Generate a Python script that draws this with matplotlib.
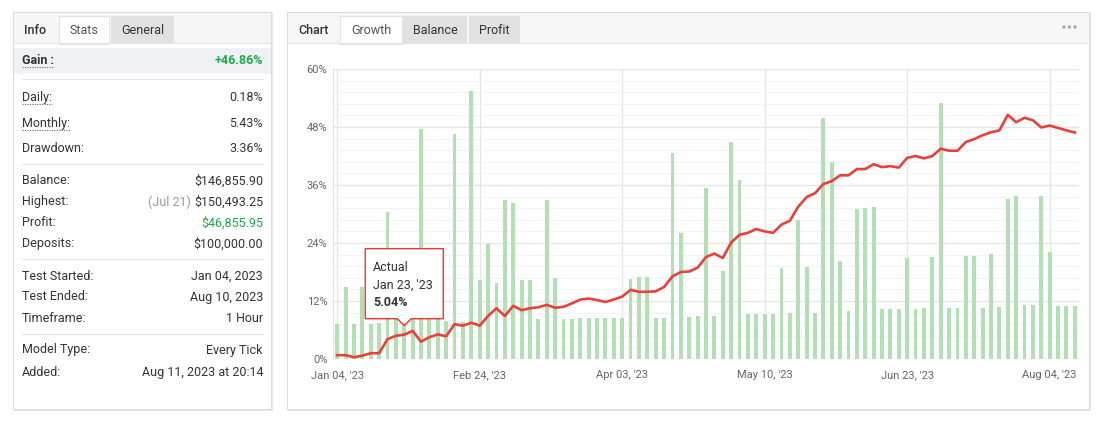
import matplotlib
matplotlib.use("Agg")
import matplotlib.pyplot as plt
from matplotlib.patches import Rectangle, Polygon
from matplotlib.ticker import MultipleLocator, FuncFormatter

plt.rcParams['font.family'] = ['Roboto', 'DejaVu Sans']

# ---- data ----
gain_text = "+46.86%"
stat_labels = ["Daily:", "Monthly:", "Drawdown:", "Balance:", "Highest:", "Profit:",
               "Deposits:", "Test Started:", "Test Ended:", "Timeframe:", "Model Type:", "Added:"]
stat_values = ["0.18%", "5.43%", "3.36%", "$146,855.90", "$150,493.25", "$46,855.95",
               "$100,000.00", "Jan 04, 2023", "Aug 10, 2023", "1 Hour", "Every Tick",
               "Aug 11, 2023 at 20:14"]
highest_date = "(Jul 21)"

# growth curve (%), one point per sample
growth = [0.8, 0.8, 0.35, 0.7, 1.2, 1.2, 4.1, 4.8, 5.04, 5.8, 3.6, 4.5, 5.1, 4.7, 7.2,
          6.9, 7.5, 6.9, 8.9, 10.5, 8.9, 11.0, 10.1, 10.5, 10.7, 11.2, 10.6, 10.8, 11.5, 12.3,
          12.5, 12.2, 11.8, 12.3, 12.9, 14.3, 13.9, 13.9, 14.0, 14.9, 17.1, 18.0, 18.1, 18.9, 21.1,
          21.8, 20.9, 24.1, 25.7, 26.1, 26.9, 26.4, 26.1, 27.8, 28.6, 31.5, 33.5, 34.3, 36.2, 36.8,
          38.0, 38.0, 39.3, 39.3, 40.3, 39.7, 39.9, 39.6, 41.6, 42.0, 41.5, 42.0, 43.5, 43.1, 43.1,
          44.9, 45.5, 46.3, 46.9, 47.3, 50.5, 49.0, 49.9, 49.4, 47.9, 48.3, 47.8, 47.3, 46.86]

# green bars
bars = [7.3, 15.0, 7.3, 15.0, 7.3, 7.5, 30.4, 8.5, 8.5, 8.5, 47.5, 8.5, 8.5, 7.9, 46.6,
        7.7, 55.5, 16.3, 23.8, 15.8, 32.8, 32.2, 16.4, 16.4, 8.2, 32.8, 16.7, 8.2, 8.2, 8.4,
        8.4, 8.4, 8.4, 8.4, 8.4, 16.6, 17.0, 17.0, 8.4, 8.4, 42.7, 26.1, 8.6, 8.8, 35.3,
        8.8, 18.2, 44.8, 37.0, 9.3, 9.3, 9.3, 9.3, 18.9, 9.6, 28.7, 19.1, 9.6, 49.9, 40.7,
        20.3, 10.0, 31.0, 31.2, 31.5, 10.4, 10.4, 10.4, 20.9, 10.4, 10.6, 21.1, 53.0, 10.6, 10.6,
        21.3, 21.3, 10.6, 21.7, 10.8, 33.1, 33.7, 11.2, 11.2, 33.7, 22.1, 11.0, 11.0, 11.0]

tick_idx = [0, 17, 34, 51, 68, 85]
tick_labels = ["Jan 04, '23", "Feb 24, '23", "Apr 03, '23", "May 10, '23", "Jun 23, '23", "Aug 04, '23"]

tooltip_idx = 8
tooltip_date = "Jan 23, '23"

# ---- figure ----
W, H = 1100, 421
fig = plt.figure(figsize=(W / 100, H / 100), dpi=100)
fig.patch.set_facecolor('white')

bg = fig.add_axes([0, 0, 1, 1], zorder=0)
bg.set_xlim(0, W)
bg.set_ylim(H, 0)
bg.axis('off')

TXT = '#333333'
GREEN = '#1fa84a'


def card(x0, y0, x1, y1):
    bg.add_patch(Rectangle((x0 + 1, y0 + 1), x1 - x0 + 1, y1 - y0 + 1, fc='#e6e6e6', ec='none'))
    bg.add_patch(Rectangle((x0, y0), x1 - x0, y1 - y0, fc='white', ec='#dddddd', lw=0.8))


def tab(x0, x1, label, fc, color, weight='normal', active=False):
    bg.add_patch(Rectangle((x0, 16), x1 - x0, 27.5, fc=fc,
                           ec='#e3e3e3' if active else 'none', lw=0.8))
    bg.text((x0 + x1) / 2, 34, label, ha='center', va='baseline', fontsize=9,
            color=color, fontweight=weight)


# left card
card(13, 12, 271, 409)
bg.add_patch(Rectangle((13.5, 12.5), 257, 30.5, fc='#f5f5f5', ec='none'))
bg.plot([13.5, 270.5], [43, 43], color='#e5e5e5', lw=0.8)
bg.text(24, 34, "Info", ha='left', va='baseline', fontsize=9, color=TXT, fontweight='medium')
tab(59, 109, "Stats", 'white', '#555555', active=True)
tab(111, 174, "General", '#e1e1e1', TXT)

bg.add_patch(Rectangle((13.5, 48), 257, 26, fc='#eff1f4', ec='none'))

renderer = fig.canvas.get_renderer()


def underline(t, y):
    bb = t.get_window_extent(renderer)
    bg.plot([bb.x0, bb.x1], [y, y], color='#666666', lw=0.8, ls=(0, (1, 1.2)))


t = bg.text(22, 64, "Gain :", ha='left', va='baseline', fontsize=9, color=TXT, fontweight='bold')
underline(t, 67)
bg.text(263, 64, gain_text, ha='right', va='baseline', fontsize=9, color=GREEN, fontweight='bold')

for ys in [79, 164, 259, 334]:
    bg.plot([22, 263], [ys, ys], color='#e6e6e6', lw=0.9)

row_y = [96, 122, 147, 180, 201, 222, 243, 275, 296, 317, 349, 371]
for lab, val, y in zip(stat_labels, stat_values, row_y):
    t = bg.text(22, y + 4.5, lab, ha='left', va='baseline', fontsize=9, color=TXT)
    if lab in ("Daily:", "Monthly:"):
        underline(t, y + 7.5)
    col = GREEN if lab == "Profit:" else TXT
    vt = bg.text(263, y + 5, val, ha='right', va='baseline', fontsize=9, color=col)
    if lab == "Highest:":
        bb = vt.get_window_extent(renderer)
        bg.text(bb.x0 - 3, y + 5, highest_date, ha='right', va='baseline', fontsize=9,
                color='#999999')

# right card
card(287, 12, 1089, 409)
bg.add_patch(Rectangle((287.5, 12.5), 801, 30.5, fc='#f7f7f7', ec='none'))
bg.plot([287.5, 1088.5], [43, 43], color='#e5e5e5', lw=0.8)
bg.text(298, 34, "Chart", ha='left', va='baseline', fontsize=9, color=TXT, fontweight='medium')
tab(340, 402, "Growth", 'white', '#555555', active=True)
tab(403, 467, "Balance", '#e1e1e1', TXT)
tab(469, 520, "Profit", '#e1e1e1', TXT)
# "more" menu dots
bg.scatter([1064, 1069.5, 1075], [27, 27, 27], s=6, color='#aaaaaa', edgecolors='none')

# ---- chart ----
ax = fig.add_axes([333 / W, (H - 359) / H, 746 / W, 290 / H], zorder=1)
ax.set_facecolor('white')
x = list(range(len(growth)))
ax.bar(x, bars, width=0.46, color='#b3dfb5', zorder=2)
ax.plot(x, growth, color='#e8403a', lw=1.9, zorder=3, solid_joinstyle='round')

ax.set_xlim(-0.5, len(growth) - 0.5)
ax.set_ylim(0, 60)
ax.yaxis.set_major_locator(MultipleLocator(12))
ax.yaxis.set_minor_locator(MultipleLocator(2.4))
ax.yaxis.set_major_formatter(FuncFormatter(lambda v, p: f"{v:.0f}%"))
ax.set_xticks(tick_idx)
ax.set_xticklabels(tick_labels)
ax.grid(True, which='major', color='#e6e6e6', lw=1, zorder=0)
ax.grid(True, which='minor', axis='y', color='#f3f3f3', lw=0.8, zorder=0)
ax.set_axisbelow(True)
for s in ['top', 'right', 'bottom']:
    ax.spines[s].set_visible(False)
ax.spines['left'].set_color('#e3e3e3')
ax.tick_params(axis='both', which='both', length=0, labelsize=8, labelcolor='#666666')
ax.tick_params(axis='y', pad=4)
ax.tick_params(axis='x', pad=8)

# ---- tooltip ----
ov = fig.add_axes([0, 0, 1, 1], zorder=3)
ov.set_xlim(0, W)
ov.set_ylim(H, 0)
ov.axis('off')
ov.patch.set_alpha(0)

px, py = ax.transData.transform((tooltip_idx, growth[tooltip_idx]))
py = H - py
tip = py - 9
B = tip - 7
T = B - 70
L, R = px - 39, px + 39
shape = [(L, T), (R, T), (R, B), (px + 7, B), (px, tip), (px - 7, B), (L, B)]
ov.add_patch(Polygon([(a + 1.5, b + 1.5) for a, b in shape], closed=True, fc='#000000',
                     alpha=0.08, ec='none'))
ov.add_patch(Polygon(shape, closed=True, fc='white', ec='#e53935', lw=1))
ov.text(L + 8, T + 22, "Actual", fontsize=9, color=TXT, va='baseline')
ov.text(L + 8, T + 40, tooltip_date, fontsize=9, color=TXT, va='baseline')
ov.text(L + 8, T + 57, f"{growth[tooltip_idx]:.2f}%", fontsize=9, color=TXT,
        fontweight='bold', va='baseline')

fig.savefig("out.png", dpi=100)
